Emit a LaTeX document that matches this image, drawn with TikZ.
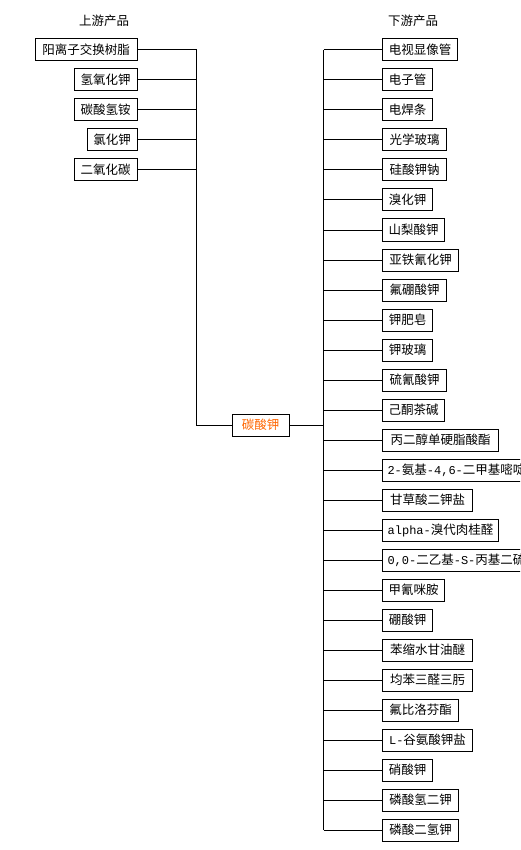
\documentclass[tikz,border=0pt]{standalone}
\usepackage{fontspec}
\setmainfont{Noto Sans CJK SC}
\newfontfamily\latmono{Liberation Mono}
\newcommand\latn[1]{{\fontsize{12}{14}\latmono #1}}
\definecolor{orangetxt}{HTML}{FF6600}
\begin{document}
\begin{tikzpicture}[x=1pt,y=-1pt,
  txt/.style={font=\fontsize{12.5}{14}\selectfont},
  box/.style={txt,draw,line width=1pt,minimum height=22pt,inner ysep=0pt,inner xsep=5pt},
  lbox/.style={box,anchor=east},
  rbox/.style={box,anchor=west},
  wire/.style={line width=1pt}]
\useasboundingbox (0,0) rectangle (520,850);
\clip (0,0) rectangle (520,850);
\fill[white] (0,0) rectangle (520,850);

\node[txt] (tup) at (104,21) {上游产品};
\node[txt] (tdown) at (413,21) {下游产品};

\foreach \w/\t [count=\i] in {102/阳离子交换树脂,63/氢氧化钾,63/碳酸氢铵,50/氯化钾,63/二氧化碳}
  \node[lbox,minimum width=\w pt] (L\i) at (137.5,20+30*\i) {\t};

\node[box,minimum width=57pt,text=orangetxt] (c) at (260.5,425) {碳酸钾};

\foreach \w/\t [count=\i] in {75/电视显像管,50/电子管,50/电焊条,64/光学玻璃,64/硅酸钾钠,50/溴化钾,62/山梨酸钾,76/亚铁氰化钾,64/氟硼酸钾,50/钾肥皂,50/钾玻璃,64/硫氰酸钾,62/己酮茶碱,116/丙二醇单硬脂酸酯,0/{\latn{2-}氨基\latn{-4,6-}二甲基嘧啶},90/甘草酸二钾盐,116/{\latn{alpha-}溴代肉桂醛},0/{\latn{0,0-}二乙基\latn{-S-}丙基二硫代磷酸酯},62/甲氰咪胺,50/硼酸钾,90/苯缩水甘油醚,90/均苯三醛三肟,76/氟比洛芬酯,90/{\latn{L-}谷氨酸钾盐},50/硝酸钾,76/磷酸氢二钾,76/磷酸二氢钾}
  \node[rbox,minimum width=\w pt] (R\i) at (382,20+30*\i) {\t};

\coordinate (lt) at (196.5,50);
\coordinate (lb) at (196.5,425);
\coordinate (rt) at (323.5,50);
\coordinate (rb) at (323.5,830);

\draw[wire] (lt) -- (lb) -- (c.west);
\foreach \i in {1,...,5}
  \draw[wire] (L\i.east) -- (L\i.east -| lb);
\draw[wire] (c.east) -- (c.east -| rt);
\draw[wire] (rt) -- (rb);
\foreach \i in {1,...,27}
  \draw[wire] (R\i.west -| rt) -- (R\i.west);
\end{tikzpicture}
\end{document}
